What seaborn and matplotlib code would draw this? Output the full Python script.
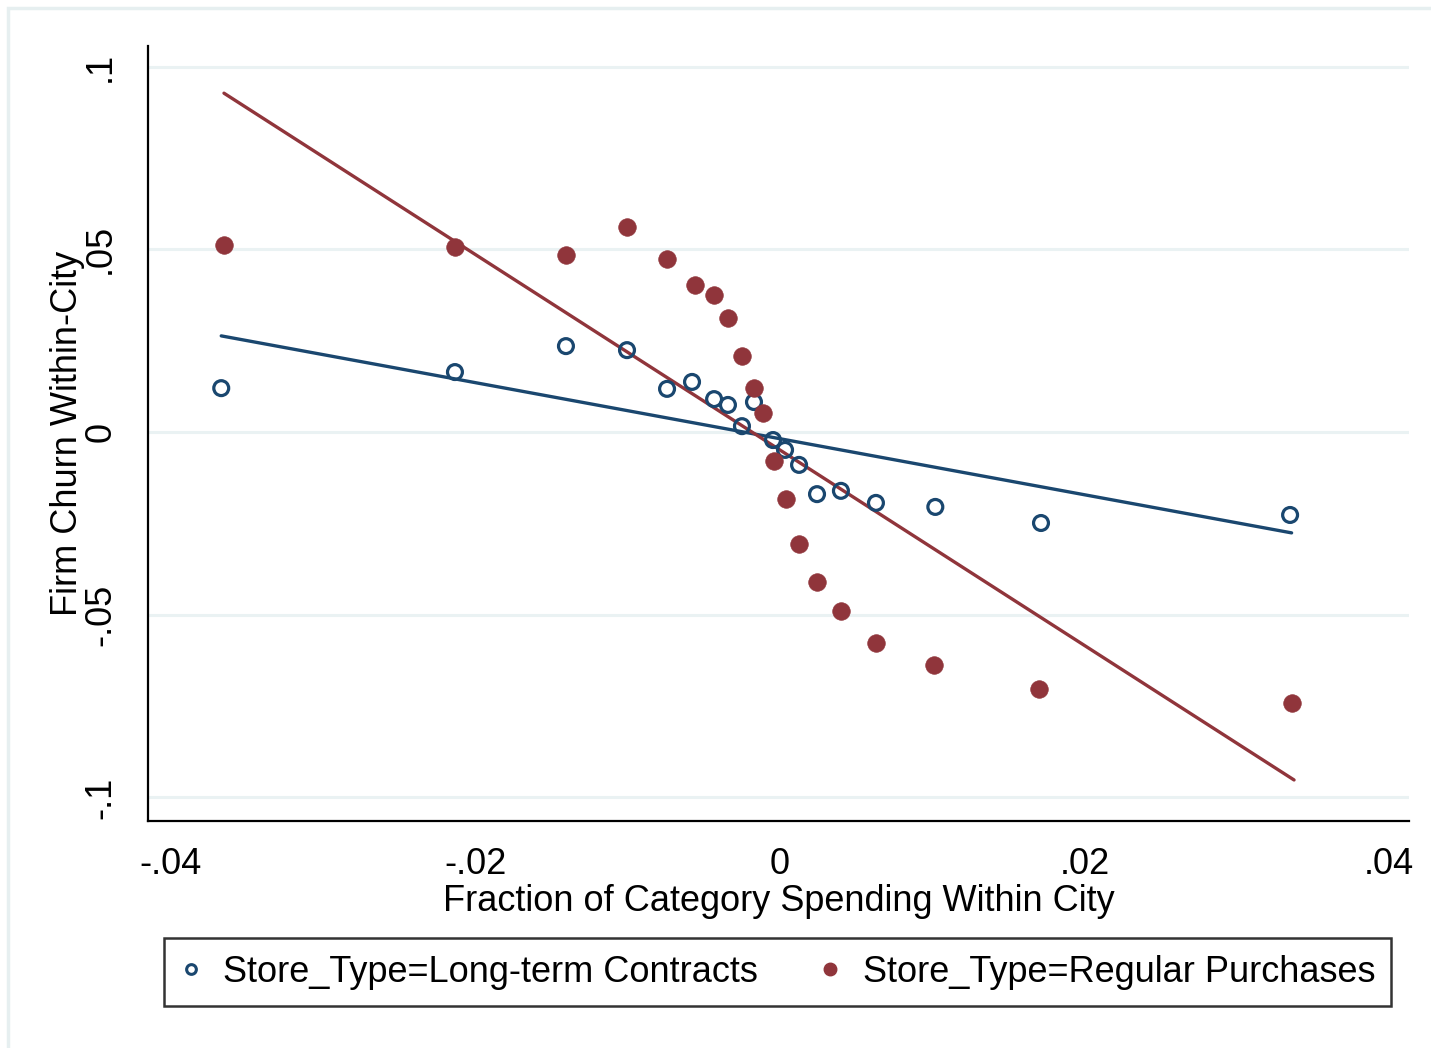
import numpy as np
import pandas as pd
import matplotlib
matplotlib.use("Agg")
import matplotlib.pyplot as plt
from matplotlib.lines import Line2D
from matplotlib.patches import Rectangle
import seaborn as sns

# Binned means: fraction of category spending within city (x) vs firm churn (y)
x_contracts = [-0.0367, -0.02135, -0.01406, -0.01005, -0.00742, -0.00578, -0.00433,
               -0.00342, -0.00250, -0.00171, -0.00046, 0.00033, 0.00125, 0.00243,
               0.00400, 0.00630, 0.01020, 0.01714, 0.03350]
y_contracts = [0.0120, 0.0164, 0.0235, 0.0224, 0.0118, 0.0137, 0.0090,
               0.0074, 0.0016, 0.0082, -0.0022, -0.0049, -0.0090, -0.0170,
               -0.0161, -0.0194, -0.0205, -0.0249, -0.0227]

x_regular = [-0.03652, -0.02135, -0.01406, -0.01005, -0.00742, -0.00558, -0.00433,
             -0.00342, -0.00250, -0.00171, -0.00112, -0.00039, 0.00039, 0.00125,
             0.00243, 0.00400, 0.00630, 0.01010, 0.01700, 0.03360]
y_regular = [0.0512, 0.0506, 0.0484, 0.0561, 0.0473, 0.0402, 0.0375,
             0.0312, 0.0208, 0.0120, 0.0052, -0.0079, -0.0183, -0.0306,
             -0.0410, -0.0490, -0.0577, -0.0637, -0.0703, -0.0741]

# Linear fit lines (endpoints at the outermost bins)
fit_x_contracts = [-0.0367, 0.0336]
fit_y_contracts = [0.0263, -0.0276]
fit_x_regular = [-0.03652, 0.03376]
fit_y_regular = [0.0927, -0.0952]

labels = ["Store_Type=Long-term Contracts", "Store_Type=Regular Purchases"]
x_ticks = [-0.04, -0.02, 0.0, 0.02, 0.04]
x_tick_labels = ["-.04", "-.02", "0", ".02", ".04"]
y_ticks = [-0.1, -0.05, 0.0, 0.05, 0.1]
y_tick_labels = ["-.1", "-.05", "0", ".05", ".1"]

NAVY = "#1a476f"
MAROON = "#90353b"
GRID = "#eaf2f3"
FS = 26

sns.set_theme(style="white")
plt.rcParams["font.family"] = ["Liberation Sans", "DejaVu Sans"]
plt.rcParams["text.color"] = "black"
plt.rcParams["axes.labelcolor"] = "black"

points = pd.concat([
    pd.DataFrame({"x": x_contracts, "y": y_contracts, "group": labels[0]}),
    pd.DataFrame({"x": x_regular, "y": y_regular, "group": labels[1]}),
])
fits = pd.concat([
    pd.DataFrame({"x": fit_x_contracts, "y": fit_y_contracts, "group": labels[0]}),
    pd.DataFrame({"x": fit_x_regular, "y": fit_y_regular, "group": labels[1]}),
])

fig = plt.figure(figsize=(14.31, 10.48), dpi=100)
W, H = 1431, 1048
ax = fig.add_axes([148 / W, 1 - 821 / H, (1409 - 148) / W, (821 - 46) / H])

# outer graph-region frame
fig.patches.append(Rectangle((8 / W, -0.05), 1.1, 1 - 8 / H + 0.05,
                             transform=fig.transFigure, fill=False,
                             edgecolor="#e6eff0", linewidth=2.5, zorder=0))

for yt in y_ticks:
    ax.axhline(yt, color=GRID, linewidth=2.2, zorder=0)

sns.lineplot(data=fits, x="x", y="y", hue="group", palette=[NAVY, MAROON],
             linewidth=2.4, legend=False, ax=ax, zorder=2)

sns.scatterplot(data=points[points.group == labels[0]], x="x", y="y", ax=ax,
                marker="o", s=115, facecolor="none", edgecolor=NAVY,
                linewidth=2.3, legend=False, zorder=3)
sns.scatterplot(data=points[points.group == labels[1]], x="x", y="y", ax=ax,
                marker="o", s=160, color=MAROON, edgecolor=MAROON,
                linewidth=0.5, legend=False, zorder=4)

ax.set_xlim(-0.04151, 0.04131)
ax.set_ylim(-0.10643, 0.10561)
ax.set_xticks(x_ticks)
ax.set_xticklabels(x_tick_labels)
ax.set_yticks(y_ticks)
ax.set_yticklabels(y_tick_labels, rotation=90, va="center")

for side in ("top", "right"):
    ax.spines[side].set_visible(False)
for side in ("left", "bottom"):
    ax.spines[side].set_color("black")
    ax.spines[side].set_linewidth(1.6)

ax.tick_params(axis="both", direction="out", length=10.5, width=1.4,
               color="black", labelsize=FS, labelcolor="black")
ax.tick_params(axis="x", pad=8)
ax.tick_params(axis="y", pad=11)
ax.grid(False)

ax.set_xlabel("Fraction of Category Spending Within City", fontsize=FS,
              color="black", labelpad=2)
ax.set_ylabel("Firm Churn Within-City", fontsize=FS, color="black")
ax.yaxis.set_label_coords((85 - 148) / (1409 - 148), 0.5)

handles = [
    Line2D([], [], linestyle="none", marker="o", markersize=7,
           markerfacecolor="none", markeredgecolor=NAVY, markeredgewidth=2.2),
    Line2D([], [], linestyle="none", marker="o", markersize=9,
           markerfacecolor=MAROON, markeredgecolor=MAROON),
]
leg = fig.legend(handles, labels, loc="center", ncol=2,
                 bbox_to_anchor=(777.5 / W, 1 - 972 / H), fontsize=FS,
                 frameon=True, fancybox=False, handletextpad=0.6,
                 columnspacing=1.7, borderpad=0.45, handlelength=0.6)
leg.get_frame().set_edgecolor("black")
leg.get_frame().set_linewidth(1.8)
for t in leg.get_texts():
    t.set_color("black")

fig.savefig("out.png", dpi=100, facecolor="white")
